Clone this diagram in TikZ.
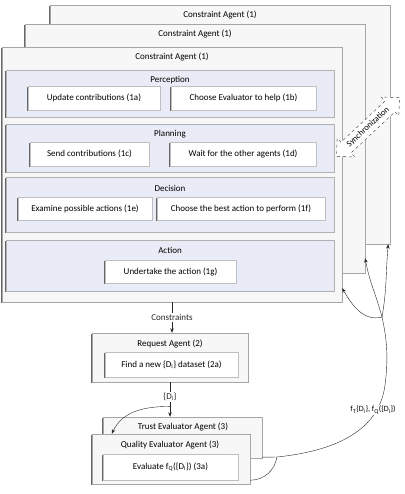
\documentclass[tikz,border=0pt]{standalone}
\usepackage{fontspec}
\setmainfont{Carlito}
\usetikzlibrary{fit,shapes.arrows,arrows.meta}
\definecolor{panelfill}{RGB}{233,236,246}
\definecolor{agentfill}{RGB}{247,247,247}
\begin{document}
\begin{tikzpicture}[x=1pt,y=-1pt,font=\fontsize{9}{11}\selectfont,
  shadowed/.style={preaction={fill=black!60,transform canvas={xshift=-0.7pt,yshift=-0.8pt}}},
  agent/.style={draw=black!35,fill=agentfill,inner sep=0pt,shadowed},
  panel/.style={draw=black!30,fill=panelfill,inner sep=0pt,shadowed},
  task/.style={draw=black!25,fill=white,inner sep=1pt,shadowed},
  ttl/.style={inner sep=1pt},
  arr/.style={-{Stealth[length=4.5pt,width=3.5pt]},black!85,thin},
  conn/.style={black!85,thin},
  lbl/.style={fill=white,inner sep=1pt}]
\useasboundingbox (0,0) rectangle (404,494);

% stacked constraint agents
\node[agent,fit={(50,5)(390,244)}] (A3) {};
\node[ttl] (A3t) at (220,15) {Constraint Agent (1)};
\node[agent,fit={(25,24)(365,273)}] (A2) {};
\node[ttl] (A2t) at (195,34) {Constraint Agent (1)};
\node[agent,fit={(2,47)(342,302)}] (A1) {};
\node[ttl] (A1t) at (172,57) {Constraint Agent (1)};

% panels
\node[panel,fit={(6,70)(334,117)}] (P) {};
\node[ttl] (Pt) at (170,80) {Perception};
\node[task,minimum width=132pt,minimum height=24pt] (t1a) at (94,98) {Update contributions (1a)};
\node[task,minimum width=145pt,minimum height=24pt] (t1b) at (243.5,98) {Choose Evaluator to help (1b)};

\node[panel,fit={(6,124)(334,172)}] (Pl) {};
\node[ttl] (Plt) at (170,134) {Planning};
\node[task,minimum width=119pt,minimum height=24pt] (t1c) at (89.5,154) {Send contributions (1c)};
\node[task,minimum width=146pt,minimum height=24pt] (t1d) at (243,154) {Wait for the other agents (1d)};

\node[panel,fit={(6,177)(334,232)}] (D) {};
\node[ttl] (Dt) at (170,188) {Decision};
\node[task,minimum width=134pt,minimum height=23pt] (t1e) at (85,208.5) {Examine possible actions (1e)};
\node[task,minimum width=168pt,minimum height=23pt] (t1f) at (241,208.5) {Choose the best action to perform (1f)};

\node[panel,fit={(6,240)(334,291)}] (Ac) {};
\node[ttl] (Act) at (170,250) {Action};
\node[task,minimum width=131pt,minimum height=23pt] (t1g) at (170.5,271.5) {Undertake the action (1g)};

% synchronization
\node[double arrow,draw=black!75,dashed,fill=white,rotate=43,minimum height=86pt,
      minimum width=24pt,inner xsep=1pt,inner ysep=3.5pt,double arrow head extend=5.5pt,
      font=\fontsize{8.5}{9}\selectfont] (sync) at (368,127) {Synchronization};

% request agent
\node[agent,fit={(92,333)(248,382)}] (R) {};
\node[ttl] (Rt) at (170,344) {Request Agent (2)};
\node[task,minimum width=133pt,minimum height=25pt] (t2a) at (171.5,364.5) {Find a new \{D\textsubscript{i}\} dataset (2a)};

% evaluators
\node[agent,fit={(103,417)(262,458)}] (T) {};
\node[ttl] (Tt) at (183,427) {Trust Evaluator Agent (3)};
\node[agent,fit={(92,434)(250,484)}] (Q) {};
\node[ttl] (Qt) at (170,445) {Quality Evaluator Agent (3)};
\node[task,minimum width=135pt,minimum height=26pt] (t3a) at (170.5,467) {Evaluate f\textsubscript{Q}(\{D\textsubscript{i}\}) (3a)};

% connectors
\draw[arr] (A1.south) -- node[lbl] (cl) {Constraints} (A1.south |- R.north);
\draw[arr] (R.south) -- node[lbl,pos=0.43] (dl) {\{D\textsubscript{i}\}} coordinate[pos=0.7] (junc) (R.south |- T.north);
\draw[arr] (junc) to[out=180,in=65] ([xshift=20pt]Q.north west);

\coordinate (merge) at (277,457);
\coordinate (split) at (382,317);
\draw[conn] ([yshift=1pt]T.south east) -- (merge);
\draw[conn] ([yshift=4pt]Q.south east) to[out=0,in=-100] (merge);
\draw[conn] (merge) .. controls (345,450) and (380,425) .. (385,385)
                     .. controls (389,355) and (386,335) .. (split);
\node[lbl,font=\fontsize{8}{9}\selectfont] (fl) at (373,410) {f\textsubscript{T}\{D\textsubscript{i}\}, f\textsubscript{Q}(\{D\textsubscript{i}\})};
\draw[arr] (split) to[out=195,in=-60] ([yshift=14pt]A1.south east);
\draw[arr] (split) to[out=105,in=-80] ([yshift=15pt]A2.south east);
\draw[arr] (split) to[out=80,in=-95] ([xshift=-2pt]A3.south east);
\end{tikzpicture}
\end{document}
